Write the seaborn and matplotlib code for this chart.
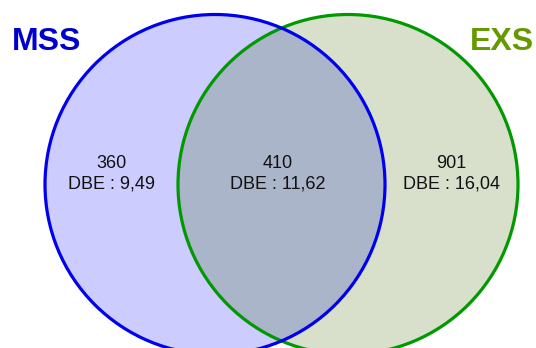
#!/usr/bin/env python3

import matplotlib
matplotlib.use("Agg")
import matplotlib.pyplot as plt
from matplotlib.patches import Circle
import seaborn as sns

# Venn data
set_names = ['MSS', 'EXS']
region_counts = [360, 410, 901]          # MSS only, both, EXS only
region_dbe = ['9,49', '11,62', '16,04']

sns.set_style("white")
plt.rcParams['font.family'] = ['Liberation Sans', 'DejaVu Sans']

# circle geometry in pixel units
cy = 184.5
r = 170
cx_left, cx_right = 215, 348

fig = plt.figure(figsize=(5.36, 3.48), dpi=100)
ax = fig.add_axes([0, 0, 1, 1])
ax.set_xlim(0, 536)
ax.set_ylim(348, 0)
ax.set_aspect('equal')
ax.axis('off')

# fills
blue_fill = Circle((cx_left, cy), r, facecolor='#ccccff', edgecolor='none', zorder=1)
green_fill = Circle((cx_right, cy), r, facecolor='#d8e0cc', edgecolor='none', zorder=1)
ax.add_patch(blue_fill)
ax.add_patch(green_fill)

# intersection: clip one circle with the other
inter = Circle((cx_right, cy), r, facecolor='#abb5c9', edgecolor='none', zorder=2)
ax.add_patch(inter)
clip = Circle((cx_left, cy), r, transform=ax.transData)
inter.set_clip_path(clip)

# outlines
ax.add_patch(Circle((cx_right, cy), r, facecolor='none', edgecolor='#009900', lw=2.3, zorder=3))
ax.add_patch(Circle((cx_left, cy), r, facecolor='none', edgecolor='#0000ee', lw=2.3, zorder=4))

# set titles
ax.text(47, 42, set_names[0], color='#0000cc', fontsize=23, fontweight='bold',
        ha='center', va='center')
ax.text(502, 42, set_names[1], color='#669900', fontsize=23, fontweight='bold',
        ha='center', va='center')

# region labels roughly centred between edges
xs = [((cx_left - r) + (cx_right - r)) / 2,
      ((cx_right - r) + (cx_left + r)) / 2 - 4,
      ((cx_left + r) + (cx_right + r)) / 2]
for x, n, d in zip(xs, region_counts, region_dbe):
    ax.text(x, 163, str(n), fontsize=13, ha='center', va='center', color='#111111', zorder=5)
    ax.text(x, 184, 'DBE : ' + d, fontsize=13, ha='center', va='center', color='#111111', zorder=5)

fig.savefig('out.png', dpi=100)
